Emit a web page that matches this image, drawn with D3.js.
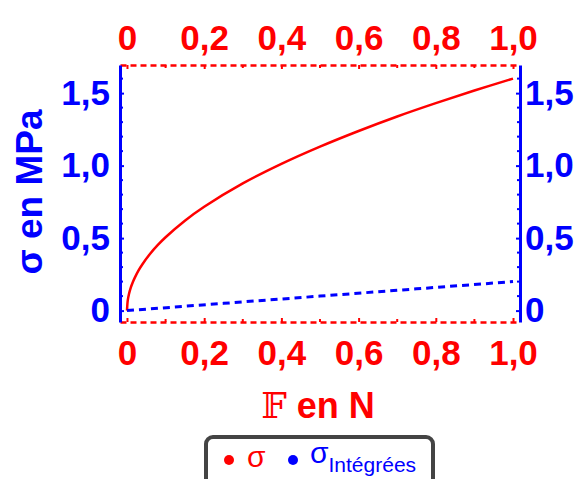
<!DOCTYPE html>
<html>
<head>
<meta charset="utf-8">
<script src="https://cdn.jsdelivr.net/npm/d3@7"></script>
<style>
  html, body { margin: 0; padding: 0; background: #fff; }
  svg { display: block; }
</style>
</head>
<body>
<svg id="chart" width="582" height="479"></svg>
<script>
// ---- data ----
const forceN = [0, 0.002, 0.005, 0.01, 0.015, 0.02, 0.03, 0.04, 0.06, 0.08, 0.1, 0.15, 0.2, 0.3, 0.4, 0.5, 0.6, 0.7, 0.8, 0.9, 1.0];
const sigma = [0, 0.07, 0.113, 0.16, 0.196, 0.226, 0.277, 0.32, 0.392, 0.453, 0.506, 0.62, 0.716, 0.877, 1.012, 1.131, 1.239, 1.339, 1.431, 1.518, 1.60];
const forceInt = [0, 0.25, 0.5, 0.75, 1.0];
const sigmaIntegrees = [0, 0.05, 0.10, 0.15, 0.20];
const xTicks = [0, 0.2, 0.4, 0.6, 0.8, 1.0];
const yTicks = [0, 0.5, 1.0, 1.5];
const yMinorTicks = [0.1, 0.2, 0.3, 0.4, 0.6, 0.7, 0.8, 0.9, 1.1, 1.2, 1.3, 1.4, 1.6];
const xMinorTicks = [0.1, 0.3, 0.5, 0.7, 0.9];

const RED = "#ff0000", BLUE = "#0000ff";
const svg = d3.select("#chart");

const x = d3.scaleLinear().domain([-0.0181, 1.0181]).range([120, 520]);
const y = d3.scaleLinear().domain([-0.0786, 1.694]).range([322, 65]);
const fmt = d => d === 0 ? "0" : d3.format(".1f")(d).replace(".", ",");

function styleAxis(g, color, dash, width) {
  g.select(".domain").attr("stroke", color).attr("stroke-width", width)
    .attr("stroke-dasharray", dash);
  g.selectAll(".tick line").attr("stroke", color).attr("stroke-width", 2);
  g.selectAll(".tick text").attr("fill", color)
    .attr("font-family", "'Liberation Sans', Arial, sans-serif")
    .attr("font-weight", "bold").attr("font-size", 35);
}

// minor ticks
const minor = svg.append("g");
[120, 520].forEach((px, i) => {
  minor.selectAll(null).data(yMinorTicks).join("line")
    .attr("x1", px).attr("x2", px + (i === 0 ? 3 : -3))
    .attr("y1", d => y(d)).attr("y2", d => y(d))
    .attr("stroke", BLUE).attr("stroke-width", 2);
});
[65, 322].forEach((py, i) => {
  minor.selectAll(null).data(xMinorTicks).join("line")
    .attr("y1", py).attr("y2", py + (i === 0 ? 3 : -3))
    .attr("x1", d => x(d)).attr("x2", d => x(d))
    .attr("stroke", RED).attr("stroke-width", 2);
});

// axes
const gTop = svg.append("g").attr("transform", "translate(0,65)")
  .call(d3.axisTop(x).tickValues(xTicks).tickFormat(fmt).tickSizeInner(-4).tickSizeOuter(0).tickPadding(15));
styleAxis(gTop, RED, "6,4", 2.5);
const gBottom = svg.append("g").attr("transform", "translate(0,322)")
  .call(d3.axisBottom(x).tickValues(xTicks).tickFormat(fmt).tickSizeInner(-4).tickSizeOuter(0).tickPadding(18));
styleAxis(gBottom, RED, "6,4", 2.5);
const gLeft = svg.append("g").attr("transform", "translate(120,0)")
  .call(d3.axisLeft(y).tickValues(yTicks).tickFormat(fmt).tickSizeInner(-4).tickSizeOuter(0).tickPadding(10));
styleAxis(gLeft, BLUE, null, 3);
const gRight = svg.append("g").attr("transform", "translate(520,0)")
  .call(d3.axisRight(y).tickValues(yTicks).tickFormat(fmt).tickSizeInner(-4).tickSizeOuter(0).tickPadding(5));
styleAxis(gRight, BLUE, null, 3);

// series
const lineS = d3.line().x((d, i) => x(forceN[i])).y(d => y(d)).curve(d3.curveCatmullRom.alpha(0.5));
svg.append("path").datum(sigma).attr("d", lineS)
  .attr("fill", "none").attr("stroke", RED).attr("stroke-width", 2.5)
  .attr("stroke-linejoin", "round");
const lineI = d3.line().x((d, i) => x(forceInt[i])).y(d => y(d));
svg.append("path").datum(sigmaIntegrees).attr("d", lineI)
  .attr("fill", "none").attr("stroke", BLUE).attr("stroke-width", 3)
  .attr("stroke-dasharray", "7,5");

// axis titles
const xt = svg.append("text").attr("x", 318).attr("y", 418).attr("text-anchor", "middle")
  .attr("fill", RED).attr("font-size", 36);
xt.append("tspan").attr("font-family", "'DejaVu Serif', serif").attr("font-weight", "normal").text("𝔽");
xt.append("tspan").attr("font-family", "'Liberation Sans', Arial, sans-serif").attr("font-weight", "bold").text(" en N");

svg.append("text").attr("transform", "translate(42,192) rotate(-90)")
  .attr("text-anchor", "middle").attr("fill", BLUE)
  .attr("font-family", "'Liberation Sans', Arial, sans-serif").attr("font-weight", "bold")
  .attr("font-size", 37).text("σ en MPa");

// legend
const lg = svg.append("g");
lg.append("rect").attr("x", 206).attr("y", 437).attr("width", 227).attr("height", 70)
  .attr("rx", 7).attr("fill", "#fff").attr("stroke", "#444").attr("stroke-width", 4);
lg.append("circle").attr("cx", 229).attr("cy", 460).attr("r", 5).attr("fill", RED);
lg.append("text").attr("x", 247).attr("y", 467).attr("fill", RED)
  .attr("font-family", "'Liberation Sans', Arial, sans-serif").attr("font-size", 30).text("σ");
lg.append("circle").attr("cx", 293).attr("cy", 460).attr("r", 5).attr("fill", BLUE);
const lt = lg.append("text").attr("x", 310).attr("y", 463).attr("fill", BLUE);
lt.append("tspan").attr("font-family", "'Liberation Sans', Arial, sans-serif").attr("font-size", 30).text("σ");
lt.append("tspan").attr("font-family", "'Liberation Sans', Arial, sans-serif").attr("font-size", 21)
  .attr("dy", 9).text("Intégrées");
</script>
</body>
</html>
